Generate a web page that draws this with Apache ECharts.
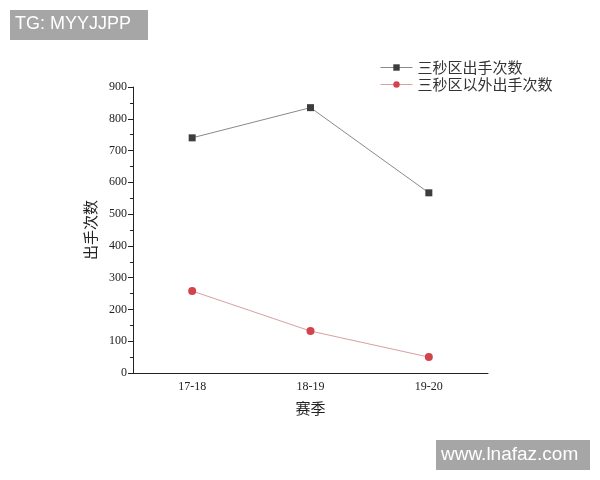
<!DOCTYPE html>
<html>
<head>
<meta charset="utf-8">
<script src="https://cdn.jsdelivr.net/npm/echarts@6/dist/echarts.min.js"></script>
<style>
  html, body { margin: 0; padding: 0; background: #fff; }
  #chart { width: 600px; height: 480px; }
</style>
</head>
<body>
<div id="chart"></div>
<script>
// 赛季
const seasons = ['17-18', '18-19', '19-20'];
// 三秒区出手次数
const insideShots = [740, 835, 567];
// 三秒区以外出手次数
const outsideShots = [258, 132, 50];
const seriesNames = ['三秒区出手次数', '三秒区以外出手次数'];

const chart = echarts.init(document.getElementById('chart'));
const numFont = '"Liberation Serif", "DejaVu Serif", serif';
const cjkFont = '"Noto Sans CJK SC", sans-serif';

const options = {
    animation: false,
    backgroundColor: '#fff',
    grid: { left: 133, right: 112, top: 87, bottom: 107 },
    legend: {
        orient: 'vertical',
        left: 375,
        top: 55,
        itemGap: 2,
        itemWidth: 32,
        itemHeight: 8,
        lineStyle: { width: 1 },
        textStyle: { fontFamily: cjkFont, fontSize: 15, color: '#333' },
        data: seriesNames
    },
    xAxis: [{
        type: 'category',
        data: seasons,
        boundaryGap: true,
        name: '赛季',
        nameLocation: 'middle',
        nameGap: 28,
        nameTextStyle: { fontFamily: cjkFont, fontSize: 15, color: '#222' },
        axisLine: { lineStyle: { color: '#222', width: 1 } },
        axisTick: { alignWithLabel: true, length: 5, lineStyle: { color: '#222' } },
        axisLabel: { fontFamily: numFont, fontSize: 12, color: '#222', margin: 8 }
    }, {
        type: 'category',
        data: seasons,
        position: 'bottom',
        boundaryGap: true,
        axisLine: { show: false },
        axisTick: { inside: true, length: 3, lineStyle: { color: '#222' } },
        axisLabel: { show: false }
    }],
    yAxis: {
        type: 'value',
        min: 0,
        max: 900,
        interval: 100,
        name: '出手次数',
        nameLocation: 'middle',
        nameGap: 34,
        nameTextStyle: { fontFamily: cjkFont, fontSize: 15, color: '#222' },
        axisLine: { show: true, lineStyle: { color: '#222', width: 1 } },
        axisTick: { show: true, length: 5, lineStyle: { color: '#222' } },
        minorTick: { show: true, splitNumber: 2, length: 3, lineStyle: { color: '#222' } },
        splitLine: { show: false },
        axisLabel: { fontFamily: numFont, fontSize: 12, color: '#222', margin: 6 }
    },
    series: [{
        name: seriesNames[0],
        type: 'line',
        data: insideShots,
        symbol: 'rect',
        symbolSize: 7,
        itemStyle: { color: '#3d3d3d' },
        lineStyle: { color: '#8a8a8a', width: 1 }
    }, {
        name: seriesNames[1],
        type: 'line',
        data: outsideShots,
        symbol: 'circle',
        symbolSize: 8,
        itemStyle: { color: '#d2434b' },
        lineStyle: { color: '#d9a0a0', width: 1 }
    }],
    graphic: [{
        type: 'group',
        left: 10,
        top: 10,
        children: [{
            type: 'rect',
            shape: { x: 0, y: 0, width: 138, height: 30 },
            style: { fill: '#a6a6a6' }
        }, {
            type: 'text',
            x: 5,
            y: 5,
            style: { text: 'TG: MYYJJPP', fill: '#fff', font: '18px "Liberation Sans", Arial, sans-serif' }
        }]
    }, {
        type: 'group',
        left: 436,
        top: 440,
        children: [{
            type: 'rect',
            shape: { x: 0, y: 0, width: 154, height: 30 },
            style: { fill: '#a6a6a6' }
        }, {
            type: 'text',
            x: 5,
            y: 5,
            style: { text: 'www.lnafaz.com', fill: '#fff', font: '19px "Liberation Sans", Arial, sans-serif' }
        }]
    }]
};

chart.setOption(options);
</script>
</body>
</html>
